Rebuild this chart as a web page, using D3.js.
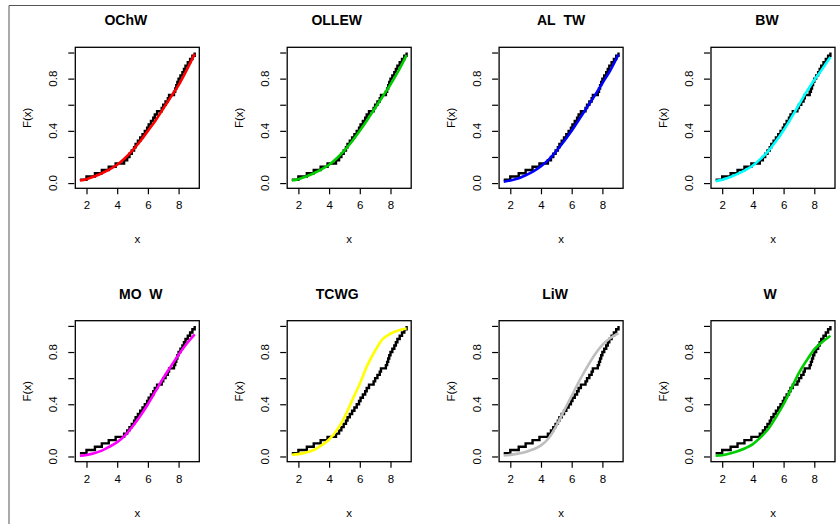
<!DOCTYPE html>
<html>
<head>
<meta charset="utf-8">
<script src="https://cdn.jsdelivr.net/npm/d3@7"></script>
<style>
  body { margin: 0; background: #fff; }
  text { font-family: "Liberation Sans", Arial, sans-serif; fill: #000; }
</style>
</head>
<body>
<svg id="chart" width="840" height="524"></svg>
<script>
// sample (sorted) used for the empirical CDF in every panel
const sample = [1.57, 2.0, 2.55, 3.0, 3.45, 3.9, 4.45,
  4.65, 4.8, 4.95, 5.1, 5.2, 5.35, 5.5, 5.65, 5.8, 5.95,
  6.05, 6.2, 6.35, 6.45, 6.6, 6.9, 7.0, 7.15, 7.3, 7.38,
  7.7, 7.78, 7.85, 7.92, 8.0, 8.12, 8.25, 8.35, 8.45, 8.6, 8.75, 8.9, 9.05];

// fitted cdf values at these x
const gridX = [1.57, 2, 2.5, 3, 3.5, 4, 4.5, 5, 5.5, 6, 6.5, 7, 7.5, 8, 8.5, 9.05];

const titles = ['OChW', 'OLLEW', 'AL\u00a0\u00a0TW', 'BW', 'MO\u00a0\u00a0W', 'TCWG', 'LiW', 'W'];
const colors = ['#ff0000', '#00cd00', '#0000ff', '#00ffff', '#ff00ff', '#ffff00', '#bebebe', '#00cd00'];

const fitOChW  = [0.02, 0.03, 0.05, 0.075, 0.105, 0.14, 0.19, 0.25, 0.32, 0.40, 0.48, 0.57, 0.66, 0.75, 0.86, 0.99];
const fitOLLEW = [0.02, 0.03, 0.05, 0.075, 0.105, 0.14, 0.19, 0.25, 0.32, 0.40, 0.485, 0.575, 0.665, 0.755, 0.855, 0.98];
const fitALTW  = [0.01, 0.02, 0.035, 0.06, 0.09, 0.13, 0.18, 0.245, 0.32, 0.40, 0.49, 0.58, 0.67, 0.765, 0.86, 0.985];
const fitBW    = [0.015, 0.025, 0.045, 0.07, 0.1, 0.135, 0.185, 0.245, 0.32, 0.405, 0.50, 0.60, 0.70, 0.79, 0.87, 0.965];
const fitMOW   = [0.005, 0.012, 0.025, 0.045, 0.075, 0.11, 0.16, 0.23, 0.31, 0.40, 0.50, 0.60, 0.69, 0.78, 0.86, 0.935];
const fitTCWG  = [0.013, 0.018, 0.03, 0.05, 0.085, 0.13, 0.2, 0.3, 0.43, 0.557, 0.70, 0.81, 0.90, 0.94, 0.965, 0.98];
const fitLiW   = [0.008, 0.012, 0.022, 0.035, 0.055, 0.085, 0.14, 0.235, 0.35, 0.465, 0.58, 0.685, 0.78, 0.855, 0.905, 0.945];
const fitW     = [0.005, 0.01, 0.022, 0.04, 0.063, 0.095, 0.146, 0.21, 0.30, 0.40, 0.52, 0.64, 0.735, 0.82, 0.875, 0.925];

const fits = [fitOChW, fitOLLEW, fitALTW, fitBW, fitMOW, fitTCWG, fitLiW, fitW];

const xTicks = [2, 4, 6, 8];
const yTicks = [0, 0.2, 0.4, 0.6, 0.8, 1.0];
const yLabelled = [0, 0.4, 0.8];

// layout (pixels)
const boxW = 124, boxH = 141;
const colStep = 211.9, rowStep = 273.4;
const left0 = 75.3, top0 = 47.3;
const titleDx = [-11.5, -12.5, 0, -6, 3.5, -12, -6, -3];

const svg = d3.select('#chart');
svg.append('rect').attr('width', 840).attr('height', 524).attr('fill', '#fff');

// outer frame of the figure
svg.append('path')
  .attr('d', 'M9,524V5.5H840')
  .attr('fill', 'none')
  .attr('stroke', '#555')
  .attr('stroke-width', 1);

const n = sample.length;
const ecdf = sample.map((v, i) => [v, (i + 1) / n]);

// R-style 4% axis extension
const xr = d3.extent(sample);
const xPad = (xr[1] - xr[0]) * 0.04;
const xDomain = [xr[0] - xPad, xr[1] + xPad];
const yDomain = [-0.04, 1.04];

titles.forEach((title, i) => {
  const col = i % 4, row = Math.floor(i / 4);
  const x0 = left0 + col * colStep;
  const y0 = top0 + row * rowStep;

  const x = d3.scaleLinear().domain(xDomain).range([x0, x0 + boxW]);
  const y = d3.scaleLinear().domain(yDomain).range([y0 + boxH, y0]);

  const g = svg.append('g');

  // empirical cdf
  g.append('path')
    .datum(ecdf)
    .attr('d', d3.line().x(d => x(d[0])).y(d => y(d[1])).curve(d3.curveStepAfter))
    .attr('fill', 'none')
    .attr('stroke', '#000')
    .attr('stroke-width', 2.4);

  // fitted cdf
  const pts = gridX.map((v, k) => [v, fits[i][k]]);
  g.append('path')
    .datum(pts)
    .attr('d', d3.line().x(d => x(d[0])).y(d => y(d[1])).curve(d3.curveMonotoneX))
    .attr('fill', 'none')
    .attr('stroke', colors[i])
    .attr('stroke-width', 2.6);

  // box
  g.append('rect')
    .attr('x', x0).attr('y', y0)
    .attr('width', boxW).attr('height', boxH)
    .attr('fill', 'none')
    .attr('stroke', '#000')
    .attr('stroke-width', 1.3);

  // x axis
  const xAxis = g.append('g')
    .attr('transform', `translate(0,${y0 + boxH})`)
    .call(d3.axisBottom(x).tickValues(xTicks).tickSize(6).tickPadding(7).tickFormat(d3.format('d')));
  xAxis.select('.domain').remove();
  xAxis.selectAll('line').attr('stroke', '#000').attr('stroke-width', 1.2);
  xAxis.selectAll('text').attr('font-size', 11.5).attr('font-family', '"Liberation Sans", Arial, sans-serif');

  // y axis
  const yAxis = g.append('g')
    .attr('transform', `translate(${x0 - 1},0)`)
    .call(d3.axisLeft(y).tickValues(yTicks).tickSize(6).tickFormat(''));
  yAxis.select('.domain').remove();
  yAxis.selectAll('line').attr('stroke', '#000').attr('stroke-width', 1.2);

  g.selectAll('.ylab')
    .data(yLabelled)
    .enter()
    .append('text')
    .attr('transform', d => `translate(${x0 - 18},${y(d)}) rotate(-90)`)
    .attr('text-anchor', 'middle')
    .attr('font-size', 11.5)
    .text(d => d3.format('.1f')(d));

  // axis titles
  g.append('text')
    .attr('x', x0 + boxW / 2)
    .attr('y', y0 + boxH + 55)
    .attr('text-anchor', 'middle')
    .attr('font-size', 11.5)
    .text('x');

  g.append('text')
    .attr('transform', `translate(${x0 - 44},${y0 + boxH / 2}) rotate(-90)`)
    .attr('text-anchor', 'middle')
    .attr('font-size', 11.5)
    .text('F(x)');

  // panel title
  g.append('text')
    .attr('x', x0 + boxW / 2 + titleDx[i])
    .attr('y', y0 - 22)
    .attr('text-anchor', 'middle')
    .attr('font-size', 14)
    .attr('font-weight', 'bold')
    .text(title);
});
</script>
</body>
</html>
